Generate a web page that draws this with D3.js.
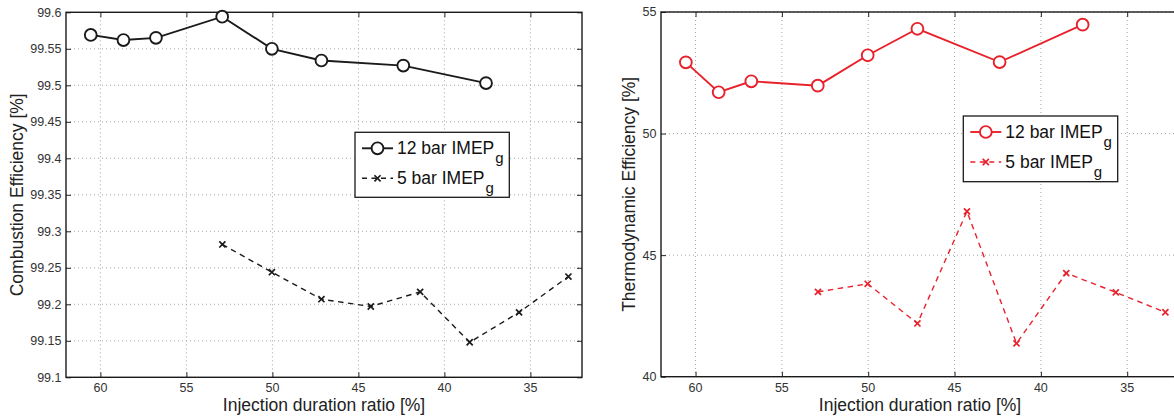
<!DOCTYPE html>
<html>
<head>
<meta charset="utf-8">
<script src="https://cdn.jsdelivr.net/npm/d3@7"></script>
<style>
  html, body { margin: 0; padding: 0; background: #fff; }
  svg { display: block; }
  text { font-family: "Liberation Sans", Arial, Helvetica, sans-serif; }
</style>
</head>
<body>
<svg id="chart" width="1174" height="419"></svg>
<script>
// Injection duration ratio [%] for each operating point
const ratio12 = [60.56, 58.66, 56.77, 52.92, 50.03, 47.15, 42.39, 37.58];
const ratio5  = [52.91, 50.03, 47.15, 44.28, 41.41, 38.53, 35.66, 32.79];

// Combustion efficiency [%]
const combustion12 = [99.569, 99.562, 99.565, 99.594, 99.550, 99.534, 99.527, 99.503];
const combustion5  = [99.282, 99.244, 99.207, 99.197, 99.217, 99.148, 99.189, 99.238];

// Thermodynamic efficiency [%]
const thermo12 = [52.93, 51.70, 52.15, 51.97, 53.22, 54.31, 52.94, 54.48];
const thermo5  = [43.49, 43.82, 42.19, 46.80, 41.37, 44.26, 43.47, 42.65];

// Axis ticks
const xTicks = [60, 55, 50, 45, 40, 35];
const combustionTicks = [99.1, 99.15, 99.2, 99.25, 99.3, 99.35, 99.4, 99.45, 99.5, 99.55, 99.6];
const thermoTicks = [40, 45, 50, 55];

const seriesNames = ["12 bar IMEP", "5 bar IMEP"];
const seriesSub = "g";
const xTitle = "Injection duration ratio [%]";

const svg = d3.select("#chart");

function drawPanel(opt) {
  const { left, right, top, bottom, xDomain, yDomain, yTicks, color, yTitle, titleGap, s12, s5, legend } = opt;
  const x = d3.scaleLinear().domain(xDomain).range([left, right]);
  const y = d3.scaleLinear().domain(yDomain).range([bottom, top]);
  const g = svg.append("g");

  // dotted grid
  g.append("g").selectAll("line").data(xTicks).join("line")
    .attr("x1", d => x(d)).attr("x2", d => x(d))
    .attr("y1", top).attr("y2", bottom)
    .attr("stroke", "#9a9a9a").attr("stroke-width", 0.9)
    .attr("stroke-dasharray", "1,3");
  g.append("g").selectAll("line").data(yTicks).join("line")
    .attr("x1", left).attr("x2", right)
    .attr("y1", d => y(d)).attr("y2", d => y(d))
    .attr("stroke", "#9a9a9a").attr("stroke-width", 0.9)
    .attr("stroke-dasharray", "1,3");

  // inward tick marks on all four sides
  const tl = 5;
  g.append("g").call(d3.axisBottom(x).tickValues(xTicks).tickSize(-tl).tickFormat(""))
    .attr("transform", `translate(0,${bottom})`);
  g.append("g").call(d3.axisTop(x).tickValues(xTicks).tickSize(-tl).tickFormat(""))
    .attr("transform", `translate(0,${top})`);
  g.append("g").call(d3.axisLeft(y).tickValues(yTicks).tickSize(-tl).tickFormat(""))
    .attr("transform", `translate(${left},0)`);
  g.append("g").call(d3.axisRight(y).tickValues(yTicks).tickSize(-tl).tickFormat(""))
    .attr("transform", `translate(${right},0)`);
  g.selectAll(".domain").remove();
  g.selectAll(".tick line").attr("stroke", "#222").attr("stroke-width", 1);

  // box
  g.append("rect")
    .attr("x", left).attr("y", top)
    .attr("width", right - left).attr("height", bottom - top)
    .attr("fill", "none").attr("stroke", "#1a1a1a").attr("stroke-width", 1.4);

  // tick labels
  g.append("g").selectAll("text").data(xTicks).join("text")
    .attr("x", d => x(d)).attr("y", bottom + 15)
    .attr("text-anchor", "middle").attr("font-size", 12.5).attr("fill", "#333")
    .text(d => d);
  g.append("g").selectAll("text").data(yTicks).join("text")
    .attr("x", left - 4.5).attr("y", d => y(d)).attr("dy", "0.35em")
    .attr("text-anchor", "end").attr("font-size", 12.5).attr("fill", "#333")
    .text(d => String(+d.toFixed(2)));

  // axis titles
  g.append("text")
    .attr("x", (left + right) / 2).attr("y", bottom + 34)
    .attr("text-anchor", "middle").attr("font-size", 17.5).attr("fill", "#222")
    .text(xTitle);
  g.append("text")
    .attr("transform", `translate(${left - titleGap},${(top + bottom) / 2}) rotate(-90)`)
    .attr("text-anchor", "middle").attr("font-size", 17.5).attr("fill", "#222")
    .text(yTitle);

  // 5 bar series: dashed with x markers
  const pts5 = ratio5.map((r, i) => [r, s5[i]]);
  g.append("path").datum(pts5)
    .attr("d", d3.line().x(d => x(d[0])).y(d => y(d[1])))
    .attr("fill", "none").attr("stroke", color).attr("stroke-width", 1.4)
    .attr("stroke-dasharray", "5.5,4.5");
  const cross = d3.symbol().type(d3.symbolX).size(26);
  g.append("g").selectAll("path").data(pts5).join("path")
    .attr("transform", d => `translate(${x(d[0])},${y(d[1])})`)
    .attr("d", cross)
    .attr("fill", "none").attr("stroke", color).attr("stroke-width", 1.7);

  // 12 bar series: solid with open circles
  const pts12 = ratio12.map((r, i) => [r, s12[i]]);
  g.append("path").datum(pts12)
    .attr("d", d3.line().x(d => x(d[0])).y(d => y(d[1])))
    .attr("fill", "none").attr("stroke", color).attr("stroke-width", 1.9);
  g.append("g").selectAll("circle").data(pts12).join("circle")
    .attr("cx", d => x(d[0])).attr("cy", d => y(d[1])).attr("r", 5.9)
    .attr("fill", "#fff").attr("stroke", color).attr("stroke-width", 1.9);

  // legend
  const lg = g.append("g").attr("transform", `translate(${legend.x},${legend.y})`);
  lg.append("rect").attr("width", legend.w).attr("height", legend.h)
    .attr("fill", "#fff").attr("stroke", "#1a1a1a").attr("stroke-width", 1.3);
  const rows = [
    { name: seriesNames[0], y: 16, dash: null, w: 1.9 },
    { name: seriesNames[1], y: 46, dash: "5,4.5", w: 1.4 }
  ];
  rows.forEach((row, i) => {
    lg.append("line").attr("x1", 7).attr("x2", 38).attr("y1", row.y).attr("y2", row.y)
      .attr("stroke", color).attr("stroke-width", row.w)
      .attr("stroke-dasharray", row.dash);
    if (i === 0) {
      lg.append("circle").attr("cx", 22.5).attr("cy", row.y).attr("r", 5.9)
        .attr("fill", "#fff").attr("stroke", color).attr("stroke-width", 1.9);
    } else {
      lg.append("path").attr("transform", `translate(22.5,${row.y})`).attr("d", cross)
        .attr("fill", "none").attr("stroke", color).attr("stroke-width", 1.7);
    }
    const t = lg.append("text").attr("x", 42).attr("y", row.y + 5.5)
      .attr("font-size", 17.5).attr("fill", "#111");
    t.append("tspan").text(row.name);
    t.append("tspan").attr("dx", 1).attr("dy", 9).attr("font-size", 15).text(seriesSub);
  });
}

drawPanel({
  left: 66, right: 582, top: 12.3, bottom: 377.3,
  xDomain: [62, 32], yDomain: [99.1, 99.6], yTicks: combustionTicks,
  color: "#1a1a1a", yTitle: "Combustion Efficiency [%]", titleGap: 43,
  s12: combustion12, s5: combustion5,
  legend: { x: 355, y: 132.3, w: 154.3, h: 65 }
});

drawPanel({
  left: 661, right: 1179, top: 12, bottom: 376.7,
  xDomain: [62, 32], yDomain: [40, 55], yTicks: thermoTicks,
  color: "#e8212b", yTitle: "Thermodynamic Efficiency [%]", titleGap: 26,
  s12: thermo12, s5: thermo5,
  legend: { x: 963.3, y: 116, w: 154.4, h: 65.7 }
});
</script>
</body>
</html>
